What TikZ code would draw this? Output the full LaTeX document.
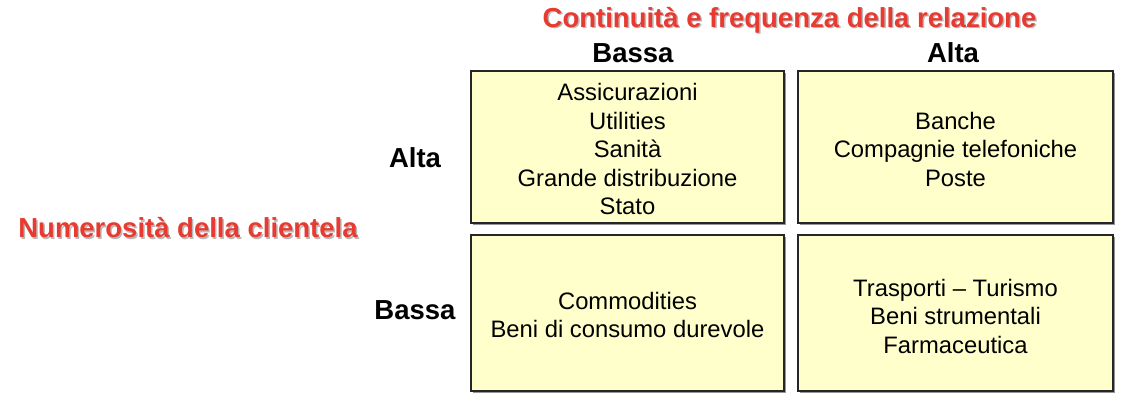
\documentclass[tikz,border=0pt]{standalone}
\usepackage{fontspec}
\setmainfont{Liberation Sans}
\usetikzlibrary{shadows}
\definecolor{boxfill}{RGB}{255,255,204}
\definecolor{titlered}{RGB}{232,58,48}
\definecolor{shadowgray}{RGB}{185,185,185}
\definecolor{boxshadow}{RGB}{150,150,150}
\tikzset{
  cell/.style={draw=black!85, line width=1.5pt, fill=boxfill,
    drop shadow={shadow xshift=2pt, shadow yshift=-2pt, fill=boxshadow, opacity=1}},
  celltext/.style={align=center, font=\fontsize{23.8}{28.5}\selectfont},
  head/.style={font=\bfseries\fontsize{27.5}{30}\selectfont},
  redtitle/.style={font=\bfseries\fontsize{27.5}{30}\selectfont, text=titlered},
  redshadow/.style={font=\bfseries\fontsize{27.5}{30}\selectfont, text=shadowgray}
}
\begin{document}
\begin{tikzpicture}[x=1pt,y=-1pt]
\useasboundingbox (0,0) rectangle (1128,402);
% boxes
\draw[cell] (471,71) rectangle (784,223);
\draw[cell] (798,71) rectangle (1113,223);
\draw[cell] (471,235) rectangle (784,391);
\draw[cell] (798,235) rectangle (1113,391);
% box texts
\node[celltext] (tl) at (627.5,149) {Assicurazioni\\Utilities\\Sanità\\Grande distribuzione\\Stato};
\node[celltext] (tr) at (955.5,149) {Banche\\Compagnie telefoniche\\Poste};
\node[celltext] (bl) at (627.5,315) {Commodities\\Beni di consumo durevole};
\node[celltext] (br) at (955.5,316) {Trasporti – Turismo\\Beni strumentali\\Farmaceutica};
% headings
\node[head] (cb) at (633,53) {Bassa};
\node[head] (ca) at (953,53) {Alta};
\node[head] (ra) at (415,158) {Alta};
\node[head] (rb) at (415,310) {Bassa};
% red titles with shadow
\node[redshadow] (ctsh) at (791,21.5) {Continuità e frequenza della relazione};
\node[redtitle] (ct) at (789.5,20) {Continuità e frequenza della relazione};
\node[redshadow] (rtsh) at (189.5,229.5) {Numerosità della clientela};
\node[redtitle] (rt) at (188,228) {Numerosità della clientela};
\end{tikzpicture}
\end{document}
